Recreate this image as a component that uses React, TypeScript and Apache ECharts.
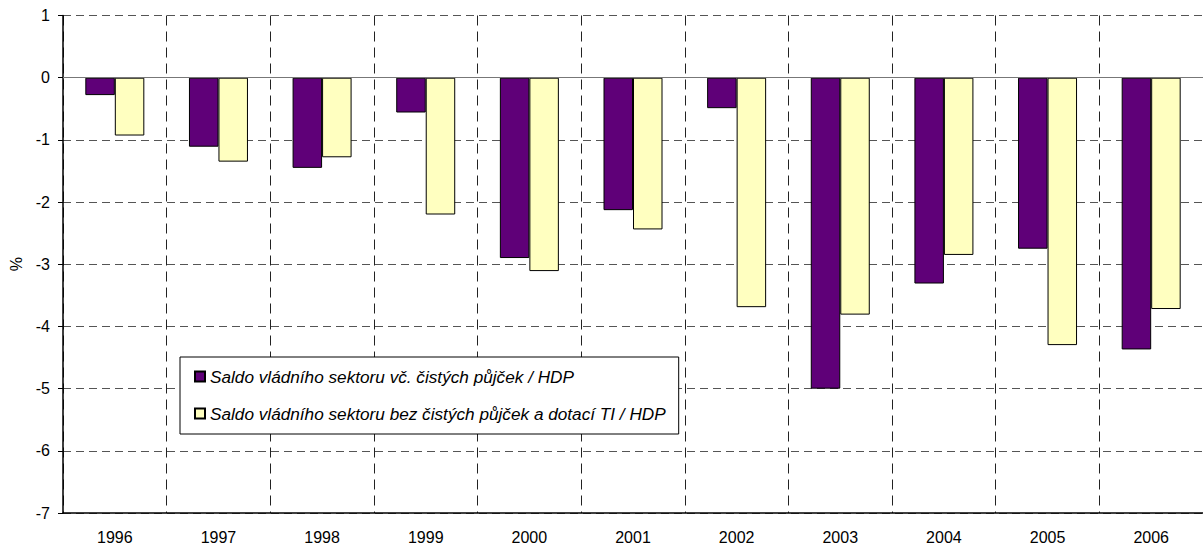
import React, { useEffect, useRef } from "react";
import * as echarts from "echarts";

const years = ["1996", "1997", "1998", "1999", "2000", "2001", "2002", "2003", "2004", "2005", "2006"];
const saldoVcetne = [-0.28, -1.11, -1.45, -0.56, -2.9, -2.13, -0.49, -5.0, -3.31, -2.75, -4.37];
const saldoBez = [-0.93, -1.35, -1.28, -2.2, -3.11, -2.44, -3.69, -3.81, -2.85, -4.3, -3.72];
const seriesNames = [
  "Saldo vládního sektoru vč. čistých půjček / HDP",
  "Saldo vládního sektoru bez čistých půjček a dotací TI / HDP",
];
const yAxisName = "%";

const FONT = "'Liberation Sans', Arial, sans-serif";

export default function App() {
  const ref = useRef<HTMLDivElement>(null);
  useEffect(() => {
    document.body.style.margin = "0";
    const chart = echarts.init(ref.current!, null, { renderer: "svg" });
    chart.setOption({
      animation: false,
      backgroundColor: "#ffffff",
      textStyle: { fontFamily: FONT },
      grid: { left: 63, top: 15.5, width: 1144, height: 497.5, containLabel: false },
      legend: {
        orient: "vertical",
        left: 180,
        top: 357,
        backgroundColor: "#ffffff",
        borderColor: "#000000",
        borderWidth: 1,
        padding: [11, 13, 12, 14],
        itemGap: 20,
        itemWidth: 10,
        itemHeight: 10,
        icon: "rect",
        textStyle: { fontSize: 17.2, fontStyle: "italic", color: "#000", fontFamily: FONT, lineHeight: 16 },
        data: seriesNames,
      },
      xAxis: {
        type: "category",
        data: years,
        boundaryGap: true,
        axisLine: { onZero: false, lineStyle: { color: "#000", width: 1.5 } },
        axisTick: { show: false },
        axisLabel: { color: "#000", fontSize: 16, margin: 16, fontFamily: FONT },
        splitLine: { show: true, interval: 0, lineStyle: { color: "#222", type: [10, 6], width: 1 } },
      },
      yAxis: {
        type: "value",
        min: -7,
        max: 1,
        interval: 1,
        name: yAxisName,
        nameLocation: "middle",
        nameGap: 28,
        nameTextStyle: { color: "#000", fontSize: 16, fontFamily: FONT },
        axisLine: { show: true, lineStyle: { color: "#000", width: 1.5 } },
        axisTick: { show: true, length: 5, lineStyle: { color: "#000" } },
        axisLabel: { color: "#000", fontSize: 16, margin: 13, fontFamily: FONT },
        splitLine: { show: true, lineStyle: { color: "#555", type: [8, 5], width: 1 } },
      },
      series: [
        {
          name: seriesNames[0],
          type: "bar",
          data: saldoVcetne,
          barWidth: 29.5,
          barGap: "0%",
          itemStyle: { color: "#5f0078", borderColor: "#000", borderWidth: 1 },
          markLine: {
            silent: true,
            symbol: "none",
            label: { show: false },
            lineStyle: { color: "#777", type: "solid", width: 1 },
            data: [{ yAxis: 0 }],
          },
        },
        {
          name: seriesNames[1],
          type: "bar",
          data: saldoBez,
          barWidth: 29.5,
          barGap: "0%",
          itemStyle: { color: "#ffffc0", borderColor: "#000", borderWidth: 1 },
        },
      ],
    });
    return () => chart.dispose();
  }, []);
  return <div ref={ref} style={{ position: "absolute", left: 0, top: 0, width: 1203, height: 549 }} />;
}
